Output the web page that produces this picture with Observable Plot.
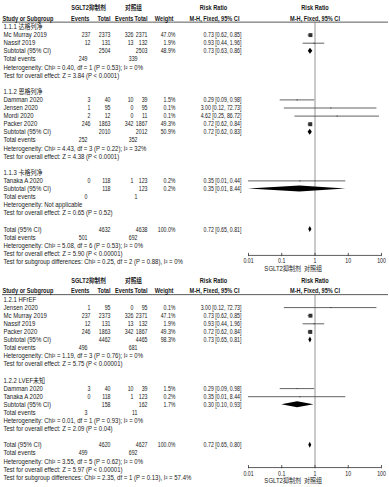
<!DOCTYPE html>
<html><head><meta charset="utf-8">
<script src="https://cdn.jsdelivr.net/npm/d3@7"></script>
<script src="https://cdn.jsdelivr.net/npm/@observablehq/plot@0.6"></script>
<style>
body{margin:0;background:#fff;}
#chart svg{display:block;}
</style></head><body><div id="chart"></div>
<script>
// ---------- shared labels ----------
const expLabel = "SGLT2抑制剂";
const ctlLabel = "对照组";
const axisTicks = [0.01, 0.1, 1, 10, 100];
const axisTickLabels = ["0.01", "0.1", "1", "10", "100"];

// ---------- panel 1: by drug ----------
const p1GroupNames = ["1.1.1 达格列净", "1.1.2 恩格列净", "1.1.3 卡格列净"];
const p1Study = ["Mc Murray 2019", "Nassif 2019", "Damman 2020", "Jensen 2020", "Mordi 2020", "Packer 2020", "Tanaka A 2020"];
const p1Group = [0, 0, 1, 1, 1, 1, 2];
const p1EvE = [237, 12, 3, 1, 2, 246, 0];
const p1TotE = [2373, 131, 40, 95, 12, 1863, 118];
const p1EvC = [326, 13, 10, 0, 0, 342, 1];
const p1TotC = [2371, 132, 39, 95, 11, 1867, 123];
const p1Wt = [47.0, 1.9, 1.5, 0.1, 0.1, 49.3, 0.2];
const p1RR = [0.73, 0.93, 0.29, 3.00, 4.62, 0.72, 0.35];
const p1Lo = [0.62, 0.44, 0.09, 0.12, 0.25, 0.62, 0.01];
const p1Hi = [0.85, 1.96, 0.98, 72.73, 86.72, 0.84, 8.44];
const p1HiPrinted = [0.85, 1.96, 0.98, 72.73, 86.72, 0.84, 0.44];
const p1SubTotE = [2504, 2010, 118];
const p1SubTotC = [2503, 2012, 123];
const p1SubWt = [48.9, 50.9, 0.2];
const p1SubRR = [0.73, 0.72, 0.35];
const p1SubLo = [0.63, 0.62, 0.01];
const p1SubHi = [0.86, 0.83, 8.44];
const p1SubEvE = [249, 252, 0];
const p1SubEvC = [339, 352, 1];
const p1SubHet = ["Heterogeneity: Chi² = 0.40, df = 1 (P = 0.53); I² = 0%", "Heterogeneity: Chi² = 4.43, df = 3 (P = 0.22); I² = 32%", "Heterogeneity: Not applicable"];
const p1SubTest = ["Test for overall effect: Z = 3.84 (P < 0.0001)", "Test for overall effect: Z = 4.38 (P < 0.0001)", "Test for overall effect: Z = 0.65 (P = 0.52)"];
const p1Total = [4632, 4638, 100.0, 0.72, 0.65, 0.81];   // totE, totC, weight, RR, lo, hi
const p1TotalEv = [501, 692];
const p1TotalNotes = ["Heterogeneity: Chi² = 5.08, df = 6 (P = 0.53); I² = 0%", "Test for overall effect: Z = 5.90 (P < 0.00001)", "Test for subgroup differences: Chi² = 0.25, df = 2 (P = 0.88), I² = 0%"];

// ---------- panel 2: by LVEF ----------
const p2GroupNames = ["1.2.1 HFrEF", "1.2.2 LVEF未知"];
const p2Study = ["Jensen 2020", "Mc Murray 2019", "Nassif 2019", "Packer 2020", "Damman 2020", "Tanaka A 2020"];
const p2Group = [0, 0, 0, 0, 1, 1];
const p2EvE = [1, 237, 12, 246, 3, 0];
const p2TotE = [95, 2373, 131, 1863, 40, 118];
const p2EvC = [0, 326, 13, 342, 10, 1];
const p2TotC = [95, 2371, 132, 1867, 39, 123];
const p2Wt = [0.1, 47.1, 1.9, 49.3, 1.5, 0.2];
const p2RR = [3.00, 0.73, 0.93, 0.72, 0.29, 0.35];
const p2Lo = [0.12, 0.62, 0.44, 0.62, 0.09, 0.01];
const p2Hi = [72.73, 0.85, 1.96, 0.84, 0.98, 8.44];
const p2SubTotE = [4462, 158];
const p2SubTotC = [4465, 162];
const p2SubWt = [98.3, 1.7];
const p2SubRR = [0.73, 0.30];
const p2SubLo = [0.65, 0.10];
const p2SubHi = [0.81, 0.93];
const p2SubEvE = [496, 3];
const p2SubEvC = [681, 11];
const p2SubHet = ["Heterogeneity: Chi² = 1.19, df = 3 (P = 0.76); I² = 0%", "Heterogeneity: Chi² = 0.01, df = 1 (P = 0.93); I² = 0%"];
const p2SubTest = ["Test for overall effect: Z = 5.75 (P < 0.00001)", "Test for overall effect: Z = 2.09 (P = 0.04)"];
const p2Total = [4620, 4627, 100.0, 0.72, 0.65, 0.80];
const p2TotalEv = [499, 692];
const p2TotalNotes = ["Heterogeneity: Chi² = 3.55, df = 5 (P = 0.62); I² = 0%", "Test for overall effect: Z = 5.97 (P < 0.00001)", "Test for subgroup differences: Chi² = 2.35, df = 1 (P = 0.13), I² = 57.4%"];

// ---------- build rows ----------
const f2 = d3.format(".2f");
const pct = w => d3.format(".1f")(w) + "%";
const ciText = (rr, lo, hi) => `${f2(rr)} [${f2(lo)}, ${f2(hi)}]`;

function buildRows(P) {
  const rows = [];
  let i = 0;
  P.groups.forEach((g, gi) => {
    rows.push({i: i++, kind: "group", label: g});
    P.study.forEach((s, si) => {
      if (P.group[si] !== gi) return;
      rows.push({i: i++, kind: "study", label: s, evE: P.evE[si], totE: P.totE[si], evC: P.evC[si], totC: P.totC[si],
        wt: P.wt[si], rr: P.rr[si], lo: P.lo[si], hi: P.hi[si],
        ci: ciText(P.rr[si], P.lo[si], (P.hiPrinted || P.hi)[si])});
    });
    rows.push({i: i++, kind: "sub", label: "Subtotal (95% CI)", totE: P.subTotE[gi], totC: P.subTotC[gi], wt: P.subWt[gi],
      rr: P.subRR[gi], lo: P.subLo[gi], hi: P.subHi[gi], ci: ciText(P.subRR[gi], P.subLo[gi], P.subHi[gi])});
    rows.push({i: i++, kind: "events", label: "Total events", evE: P.subEvE[gi], evC: P.subEvC[gi]});
    rows.push({i: i++, kind: "note", label: P.subHet[gi]});
    rows.push({i: i++, kind: "note", label: P.subTest[gi]});
    i++; // blank row
  });
  const T = P.total;
  rows.push({i: i++, kind: "sub", label: "Total (95% CI)", totE: T[0], totC: T[1], wt: T[2], rr: T[3], lo: T[4], hi: T[5], ci: ciText(T[3], T[4], T[5])});
  rows.push({i: i++, kind: "events", label: "Total events", evE: P.totalEv[0], evC: P.totalEv[1]});
  P.totalNotes.forEach(n => rows.push({i: i++, kind: "note", label: n}));
  return rows;
}

const FONT = "'Liberation Sans', Arial, 'Noto Sans CJK SC', sans-serif";
const FS = 6.4;
const INK = "#1a1a1a";

function panel(rows, height, y0, axisIdx) {
  const studies = rows.filter(d => d.kind === "study");
  const subs = rows.filter(d => d.kind === "sub");
  const H = 0.37;
  const diamonds = subs.flatMap(d => [
    {x: d.lo, y1: d.i, y2: d.i, z: d.i},
    {x: d.rr, y1: d.i - H, y2: d.i + H, z: d.i},
    {x: d.hi, y1: d.i, y2: d.i, z: d.i}
  ]);
  const bold = d => (d.kind === "group" || d.kind === "sub") ? "bold" : "normal";
  const col = (field, dx, opts = {}) => Plot.text(rows.filter(d => d[field] != null), {
    y: "i", text: d => field === "wt" ? pct(d.wt) : field === "ci" ? d.ci : String(d[field]),
    frameAnchor: "left", dx, textAnchor: "end", fontWeight: bold, ...opts
  });
  const hdr = (txt, y, dx, anchor, weight = "bold") => Plot.text([txt], {y, text: d => d, frameAnchor: "left", dx, textAnchor: anchor, fontWeight: weight});
  const hdrX = (txt, y) => Plot.text([txt], {x: 1, y, text: d => d, textAnchor: "middle", fontWeight: "bold"});
  const svg = Plot.plot({
    width: 389, height,
    marginLeft: 0, marginRight: 0, marginTop: 0, marginBottom: 0,
    style: {fontFamily: FONT, fontSize: FS + "px", color: INK, background: "#fff"},
    x: {type: "log", domain: [0.01, 100], range: [248, 381], axis: null},
    y: {type: "linear", domain: [0, 1], range: [y0, y0 + 8.1], axis: null},
    r: {type: "identity"},
    marks: [
      // headers
      hdr(expLabel, -2.35, 88, "middle"),
      hdr(ctlLabel, -2.35, 133, "middle"),
      hdr("Risk Ratio", -2.35, 213, "middle"),
      hdrX("Risk Ratio", -2.35),
      hdr("Study or Subgroup", -1, 2, "start"),
      hdr("Events", -1, 89, "end"),
      hdr("Total", -1, 110, "end"),
      hdr("Events", -1, 133, "end"),
      hdr("Total", -1, 147, "end"),
      hdr("Weight", -1, 173, "end"),
      hdr("M-H, Fixed, 95% CI", -1, 214, "middle"),
      hdrX("M-H, Fixed, 95% CI", -1),
      Plot.ruleY([-0.6], {insetLeft: 2, insetRight: 1, stroke: "#111", strokeWidth: 0.7}),
      // null line
      Plot.ruleX([1], {y1: -0.6, y2: axisIdx, stroke: "#7a7a7a", strokeWidth: 0.8}),
      // table columns
      Plot.text(rows, {y: "i", text: "label", frameAnchor: "left", dx: 3, textAnchor: "start", fontWeight: bold}),
      col("evE", 90, {filter: d => d.kind === "study"}),
      col("evE", 87, {filter: d => d.kind === "events"}),
      col("totE", 110),
      col("evC", 133, {filter: d => d.kind === "study"}),
      col("evC", 137, {filter: d => d.kind === "events"}),
      col("totC", 147),
      col("wt", 175),
      col("ci", 241),
      // forest
      Plot.ruleY(studies, {y: "i", x1: "lo", x2: "hi", stroke: "#3a3a3a", strokeWidth: 0.8}),
      Plot.dot(studies, {x: "rr", y: "i", symbol: "square", r: d => Math.max(1, 4 * Math.sqrt(d.wt / 49.3)) / Math.sqrt(Math.PI), fill: "#333", stroke: "none"}),
      Plot.areaY(diamonds, {x: "x", y1: "y1", y2: "y2", z: "z", fill: "#000", curve: "linear"}),
      // axis
      Plot.ruleY([axisIdx], {x1: 0.01, x2: 100, stroke: "#333", strokeWidth: 0.8}),
      Plot.ruleX(axisTicks, {x: d => d, y1: axisIdx - 0.25, y2: axisIdx + 0.15, stroke: "#333", strokeWidth: 0.8}),
      Plot.text(axisTicks, {x: d => d, y: axisIdx, dy: 6, text: (d, k) => axisTickLabels[k], textAnchor: "middle"}),
      Plot.text([expLabel], {x: 1, y: axisIdx, dy: 13.5, dx: -14, text: d => d, textAnchor: "end"}),
      Plot.text([ctlLabel], {x: 1, y: axisIdx, dy: 13.5, dx: -11, text: d => d, textAnchor: "start"})
    ]
  });
  // condense text horizontally around its anchor (the reference type is narrow)
  svg.querySelectorAll("text").forEach(t => {
    const s = /^[\d.%\[\], ]+$/.test(t.textContent) ? 0.82 : (t.getAttribute("font-weight") === "bold" || t.closest("[font-weight=bold]")) ? 0.88 : 0.94;
    const tr = t.getAttribute("transform");
    if (tr) t.setAttribute("transform", tr + ` scale(${s},1)`);
    else {
      const x = +(t.getAttribute("x") || 0);
      t.setAttribute("transform", `translate(${x},0) scale(${s},1) translate(${-x},0)`);
    }
  });
  return svg;
}

const rows1 = buildRows({groups: p1GroupNames, study: p1Study, group: p1Group, evE: p1EvE, totE: p1TotE, evC: p1EvC, totC: p1TotC,
  wt: p1Wt, rr: p1RR, lo: p1Lo, hi: p1Hi, hiPrinted: p1HiPrinted, subTotE: p1SubTotE, subTotC: p1SubTotC, subWt: p1SubWt,
  subRR: p1SubRR, subLo: p1SubLo, subHi: p1SubHi, subEvE: p1SubEvE, subEvC: p1SubEvC, subHet: p1SubHet, subTest: p1SubTest,
  total: p1Total, totalEv: p1TotalEv, totalNotes: p1TotalNotes});
const rows2 = buildRows({groups: p2GroupNames, study: p2Study, group: p2Group, evE: p2EvE, totE: p2TotE, evC: p2EvC, totC: p2TotC,
  wt: p2Wt, rr: p2RR, lo: p2Lo, hi: p2Hi, subTotE: p2SubTotE, subTotC: p2SubTotC, subWt: p2SubWt,
  subRR: p2SubRR, subLo: p2SubLo, subHi: p2SubHi, subEvE: p2SubEvE, subEvC: p2SubEvC, subHet: p2SubHet, subTest: p2SubTest,
  total: p2Total, totalEv: p2TotalEv, totalNotes: p2TotalNotes});

const el = document.getElementById("chart");
el.append(panel(rows1, 272, 26.5, 28.2));
el.append(panel(rows2, 215, 27, 20.75));
</script>
</body></html>
